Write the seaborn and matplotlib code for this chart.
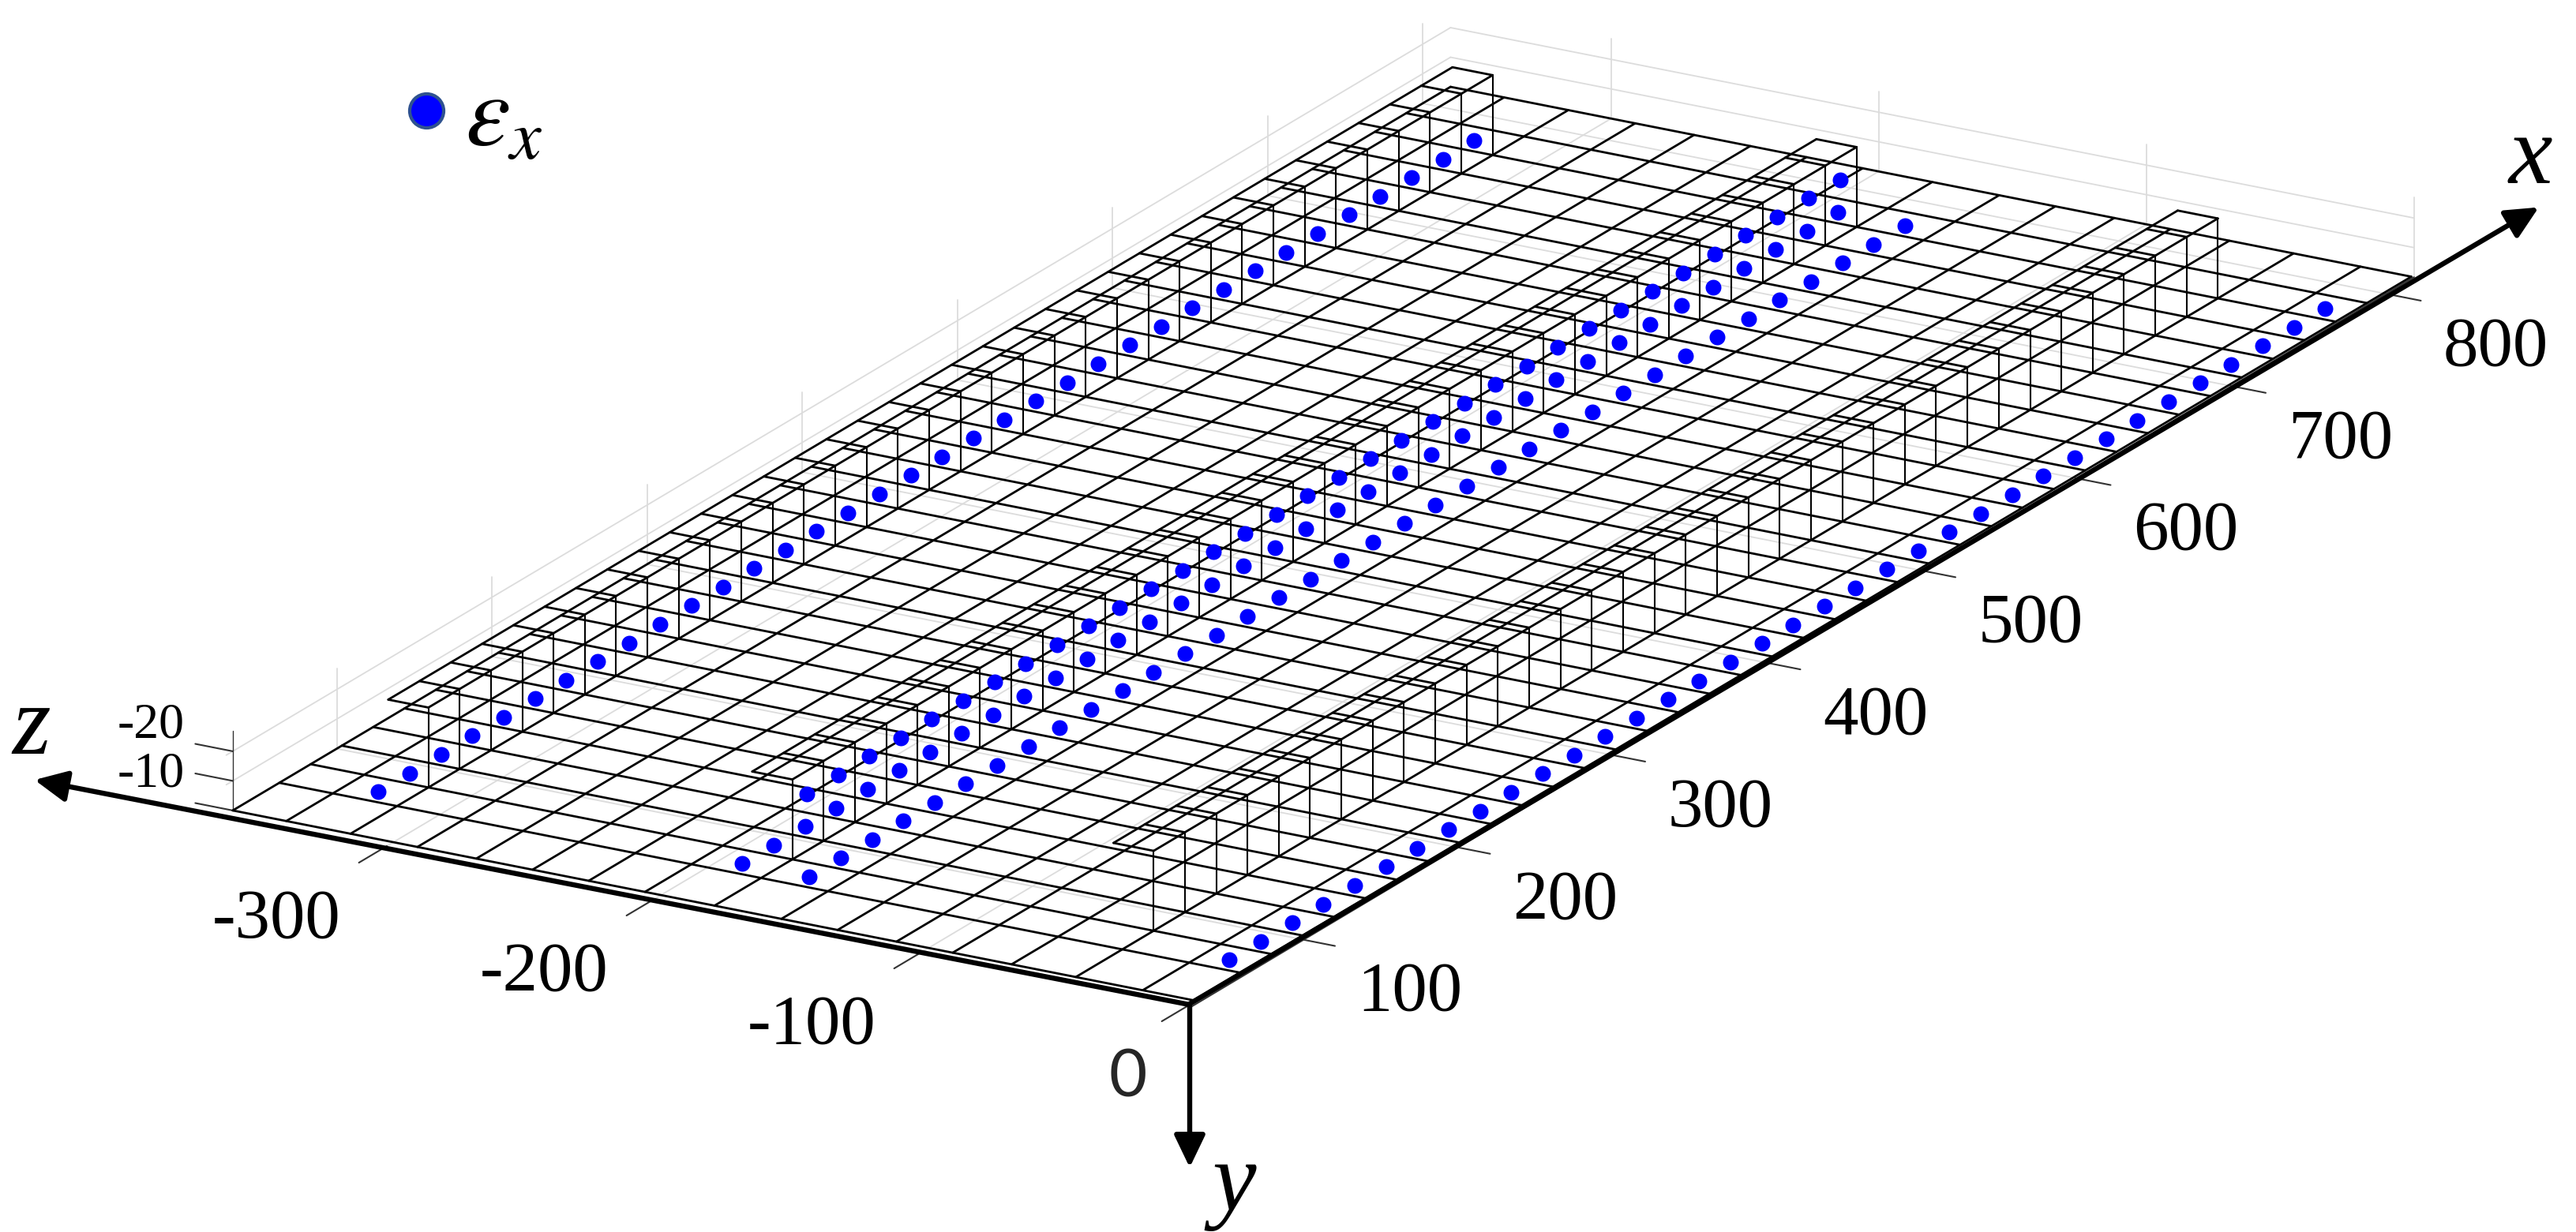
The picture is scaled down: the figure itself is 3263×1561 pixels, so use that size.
#!/usr/bin/env python3
# -*- coding: utf-8 -*-

import pandas as pd
import seaborn as sns
import matplotlib
matplotlib.use('Agg')
import matplotlib.pyplot as plt

from matplotlib.lines import Line2D

mesh_x = [33, 63, 83.2, 103.3, 123.5, 143.7, 163.9, 184, 204.2, 224.4, 244.6, 264.7, 284.9,
          305.1, 325.3, 345.5, 365.6, 385.8, 406, 426.2, 446.4, 466.5, 486.7, 506.9, 527.1,
          547.3, 567.4, 587.6, 607.8, 628, 648.2, 668.3, 688.5, 708.7, 728.9, 749.1, 769.2,
          789.4, 818]
mesh_z = [-360, -340, -316, -291, -269, -248, -227, -206, -180, -155, -134, -112, -91, -69,
          -45, -20, -1]

# raised frames: stations where a column stands, the z of each line of columns
frame_x = [83.2, 103.3, 123.5, 143.7, 163.9, 184, 204.2, 224.4, 244.6, 264.7, 284.9, 305.1,
           325.3, 345.5, 365.6, 385.8, 406, 426.2, 446.4, 466.5, 486.7, 506.9, 527.1, 547.3,
           567.4, 587.6, 607.8, 628, 648.2, 668.3, 688.5, 708.7, 728.9, 749.1, 769.2]
frame_z = [-316, -180, -45]
frame_width = 15
frame_height = -27

# strain gauge rows
gauge_x = [71.7, 91.9, 112.1, 132.2, 152.4, 172.6, 192.8, 213, 233.1, 253.3, 273.5, 293.7,
           313.9, 334, 354.2, 374.4, 394.6, 414.8, 434.9, 455.1, 475.3, 495.5, 515.7, 535.8,
           556, 576.2, 596.4, 616.6, 636.7, 656.9, 677.1, 697.3, 717.5, 737.6, 757.8, 778]
gauge_z = [-328, -192, -167, -10]
inner_x = [139, 159.2, 179.4, 199.5, 219.7, 239.9, 260.1, 280.3, 300.4, 320.6, 340.8, 361,
           381.2, 401.3, 421.5, 441.7, 461.9, 482.1, 502.2, 522.4, 542.6, 562.8, 583, 603.1,
           623.3, 643.5, 663.7, 683.9, 704, 724.2, 744.4, 764.6, 784.8, 805]
inner_z = -207

# axes
x_ticks = [100, 200, 300, 400, 500, 600, 700, 800]
z_ticks = [-300, -200, -100]
y_levels = [-10, -20]
box_x = [28.8, 818]
box_z = [-360, 0]
box_top = -27
x_tip, z_tip, y_tip = 895, -430, 55


def project(x, z, y = 0):
    # parallel view of the model on to picture pixels
    px = 1507 + (x - 28.8) * 1.965 + z * 3.39
    py = 1273 - (x - 28.8) * 1.168 + z * 0.67 + y * 3.75
    return px, py


def draw_lines(ax, segments, color, lw):
    # segments are pairs of (x, z, y) model points
    rows = []
    for s, (start, end) in enumerate(segments):
        for point in (start, end):
            px, py = project(*point)
            rows.append({'px': px, 'py': py, 'seg': s})
    df = pd.DataFrame(rows)
    sns.lineplot(data = df, x = 'px', y = 'py', units = 'seg', estimator = None, sort = False,
                 color = color, linewidth = lw, legend = False, ax = ax)


def draw_arrow(ax, start, tip):
    ax.annotate('', xy = project(*tip), xytext = project(*start),
                arrowprops = dict(arrowstyle = '-|>,head_length=25,head_width=12', color = 'black',
                                  lw = 4.6, shrinkA = 0, shrinkB = 0, mutation_scale = 1))


sns.set_theme(style = 'white')
plt.rcParams['font.family'] = ['Liberation Serif', 'DejaVu Serif']
plt.rcParams['mathtext.fontset'] = 'stix'
plt.rcParams['text.color'] = 'black'

fig = plt.figure(figsize = (32.63, 15.61), dpi = 100)
ax = fig.add_axes([0, 0, 1, 1])
ax.set_xlim(0, 3263)
ax.set_ylim(1561, 0)
ax.axis('off')

# gray box grid behind the mesh
gray = []
for t in x_ticks:
    gray.append(((t, box_z[0], 0), (t, box_z[1], 0)))
    gray.append(((t, box_z[0], 0), (t, box_z[0], box_top)))
for t in z_ticks:
    gray.append(((box_x[0], t, 0), (box_x[1], t, 0)))
for t in z_ticks + [0]:
    gray.append(((box_x[1], t, 0), (box_x[1], t, box_top)))
for level in y_levels:
    gray.append(((box_x[0], box_z[0], level), (box_x[1], box_z[0], level)))
    gray.append(((box_x[1], box_z[0], level), (box_x[1], box_z[1], level)))
draw_lines(ax, gray, '#dcdcdc', 1.3)

# dark ticks and box edges
dark = [((box_x[0], 0, 1), (box_x[1], 0, 0))]
for t in x_ticks:
    dark.append(((t, 0, 0), (t, 13, 0)))
for t in z_ticks + [0]:
    dark.append(((box_x[0], t, 0), (box_x[0] - 18, t, 0)))
for level in [0] + y_levels:
    dark.append(((33, -360, level), (33, -374, level)))
draw_lines(ax, dark, '#333333', 1.5)
draw_lines(ax, [((33, -360, 0), (33, -360, box_top))], '#333333', 1.0)

# floor mesh
mesh = []
for x in mesh_x:
    mesh.append(((x, mesh_z[0], 0), (x, mesh_z[-1], 0)))
for z in mesh_z:
    mesh.append(((mesh_x[0], z, 0), (mesh_x[-1], z, 0)))
draw_lines(ax, mesh, 'black', 2.0)

# raised frames on three lines
deck = []
posts = []
for z in frame_z:
    deck.append(((frame_x[0], z, frame_height), (frame_x[-1], z, frame_height)))
    deck.append(((frame_x[0], z - frame_width, frame_height), (frame_x[-1], z - frame_width, frame_height)))
    for x in frame_x:
        deck.append(((x, z, frame_height), (x, z - frame_width, frame_height)))
        posts.append(((x, z, 0), (x, z, frame_height)))
draw_lines(ax, deck, 'black', 2.0)
draw_lines(ax, posts, 'black', 1.5)

# gauges
rows = []
for z in gauge_z:
    for x in gauge_x:
        rows.append(project(x, z))
for x in inner_x:
    rows.append(project(x, inner_z))
points = pd.DataFrame(rows, columns = ['px', 'py'])
sns.scatterplot(data = points, x = 'px', y = 'py', color = '#0000ff', s = 207, linewidth = 0,
                legend = False, zorder = 5, ax = ax)

# main axes with arrow heads
draw_arrow(ax, (28.8, 0, -0.3), (x_tip, 2, 0))
draw_arrow(ax, (28.8, 0, 0), (26, z_tip, 0))
draw_arrow(ax, (28.8, 0, 0), (28.8, 0, y_tip))

# tick labels
for t in x_ticks:
    px, py = project(t, 41, 11)
    ax.text(px, py, str(t), fontsize = 64, color = 'black', ha = 'center', va = 'center')
for t in z_ticks:
    px, py = project(28.8, t, 0)
    ax.text(px - 140, py + 94, str(t), fontsize = 64, color = 'black', ha = 'center', va = 'center')
ax.text(191, 981, '-10', fontsize = 46, color = 'black', ha = 'center', va = 'center')
ax.text(191, 919, '-20', fontsize = 46, color = 'black', ha = 'center', va = 'center')
ax.text(1429, 1366, '0', fontsize = 60, family = 'Lato', color = '#262626', ha = 'center', va = 'center')

# axis letters
ax.text(3205, 202, 'x', fontsize = 90, style = 'italic', color = 'black', ha = 'center', va = 'center')
ax.text(40, 925, 'z', fontsize = 90, style = 'italic', color = 'black', ha = 'center', va = 'center')
ax.text(1563, 1503, 'y', fontsize = 90, style = 'italic', color = 'black', ha = 'center', va = 'center')

# legend
handle = Line2D([], [], linestyle = 'none', marker = 'o', markersize = 31, markerfacecolor = '#0000ff',
                markeredgecolor = '#2f528f', markeredgewidth = 3)
ax.legend(handles = [handle], labels = [r'$\varepsilon_x$'], loc = 'upper left', frameon = False,
          fontsize = 92, bbox_to_anchor = (516 / 3263, 1 - 95 / 1561), borderpad = 0, borderaxespad = 0,
          handlelength = 0.37, handletextpad = 0.2, labelcolor = 'black')

fig.savefig('out.png', dpi = 100, facecolor = 'white')
